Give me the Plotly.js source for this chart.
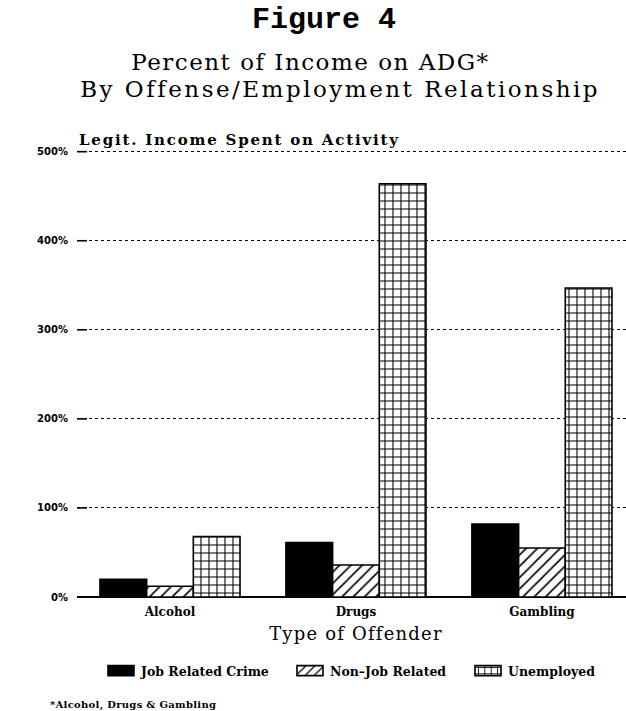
<!DOCTYPE html>
<html>
<head>
<meta charset="utf-8">
<script src="https://cdn.plot.ly/plotly-3.0.1.min.js"></script>
<style>
html,body{margin:0;padding:0;background:#fff;}
#chart{width:626px;height:711px;}
</style>
</head>
<body>
<div id="chart"></div>
<script>
const categories = ["Alcohol", "Drugs", "Gambling"];
const seriesNames = ["Job Related Crime", "Non\u2013Job Related", "Unemployed"];
const jobRelated = [20, 61, 82];
const nonJobRelated = [12, 36, 55];
const unemployed = [68, 464, 347];
const yTickValues = [0, 100, 200, 300, 400, 500];
const yTickLabels = ["0%", "100%", "200%", "300%", "400%", "500%"];

const L = 77, R = 0, T = 149, B = 114, W = 626, H = 711;
const pw = W - L - R, ph = H - T - B;
const px = x => (x - L) / pw;
const py = y => (H - B - y) / ph;

const lineStyle = {color: "#000", width: 1.6};
const traces = [
  {type: "bar", name: seriesNames[0], x: categories, y: jobRelated, legend: "legend",
   marker: {color: "#000", line: lineStyle}},
  {type: "bar", name: seriesNames[1], x: categories, y: nonJobRelated, legend: "legend2",
   marker: {color: "#fff", line: lineStyle,
            pattern: {shape: "/", fgcolor: "#000", bgcolor: "#fff", size: 8, solidity: 0.2}}},
  {type: "bar", name: seriesNames[2], x: categories, y: unemployed, legend: "legend3",
   marker: {color: "#fff", line: lineStyle,
            pattern: {shape: "+", fgcolor: "#000", bgcolor: "#fff", size: 8, solidity: 0.25}}}
];

const serif = "DejaVu Serif";
const legFont = {family: serif, size: 12.5, color: "#000", weight: "bold"};
const mkLegend = xpix => ({orientation: "h", x: px(xpix), xanchor: "left", y: py(671), yanchor: "middle",
  font: legFont, itemwidth: 30, bgcolor: "rgba(0,0,0,0)", borderwidth: 0});

const shapes = yTickValues.map(v => ({type: "line", xref: "paper", yref: "y",
  x0: 0, x1: 10 / pw, y0: v, y1: v, line: {color: "#000", width: 1.6}}));

const layout = {
  width: W, height: H,
  margin: {l: L, r: R, t: T, b: B, pad: 0},
  paper_bgcolor: "#fff", plot_bgcolor: "#fff",
  barmode: "group", bargap: 0.247, bargroupgap: 0,
  showlegend: true,
  legend: mkLegend(101), legend2: mkLegend(290), legend3: mkLegend(468),
  xaxis: {type: "category", range: [-0.5, 2.452], showgrid: false, zeroline: false,
          showline: false, ticks: "", fixedrange: true, ticklabelstandoff: 6,
          tickfont: {family: serif, size: 12, color: "#000", weight: "bold"}},
  yaxis: {range: [0, 503], tickvals: yTickValues, ticktext: yTickLabels,
          showgrid: true, gridcolor: "#000", gridwidth: 1, griddash: "dot",
          zeroline: true, zerolinecolor: "#000", zerolinewidth: 1.6,
          showline: false, ticks: "",
          tickfont: {family: "DejaVu Sans", size: 10, color: "#000", weight: "bold"},
          ticklabelstandoff: 8, fixedrange: true},
  shapes: shapes,
  annotations: [
    {text: "Figure 4", xref: "paper", yref: "paper", x: px(324), y: py(20),
     xanchor: "center", yanchor: "middle", showarrow: false,
     font: {family: "Liberation Mono", size: 30, color: "#000", weight: "bold"}},
    {text: "Percent of Income on ADG*", xref: "paper", yref: "paper", x: px(310), y: py(62),
     xanchor: "center", yanchor: "middle", showarrow: false,
     font: {family: serif, size: 23, color: "#000"}},
    {text: "By Offense/Employment Relationship", xref: "paper", yref: "paper", x: px(340), y: py(89),
     xanchor: "center", yanchor: "middle", showarrow: false,
     font: {family: serif, size: 23, color: "#000"}},
    {text: "Legit. Income Spent on Activity", xref: "paper", yref: "paper", x: px(77), y: py(140),
     xanchor: "left", yanchor: "middle", align: "left", showarrow: false,
     font: {family: serif, size: 15, color: "#000", weight: "bold"}},
    {text: "Type of Offender", xref: "paper", yref: "paper", x: px(356), y: py(633),
     xanchor: "center", yanchor: "middle", showarrow: false,
     font: {family: serif, size: 18, color: "#000"}},
    {text: "*Alcohol, Drugs & Gambling", xref: "paper", yref: "paper", x: px(48), y: py(705),
     xanchor: "left", yanchor: "middle", align: "left", showarrow: false,
     font: {family: serif, size: 10, color: "#000", weight: "bold"}}
  ]
};

const spacing = [0, 1.5, 2.5, 1.8, 1.2, 0.3];
Plotly.newPlot("chart", traces, layout, {staticPlot: true, displayModeBar: false}).then(gd => {
  gd.querySelectorAll(".annotation-text").forEach((t, i) => {
    if (spacing[i]) t.style.letterSpacing = spacing[i] + "px";
  });
  gd.querySelectorAll(".legendpoints path").forEach(p => {
    p.setAttribute("d", "M13,5H-13V-5H13Z");
  });
});
</script>
</body>
</html>
